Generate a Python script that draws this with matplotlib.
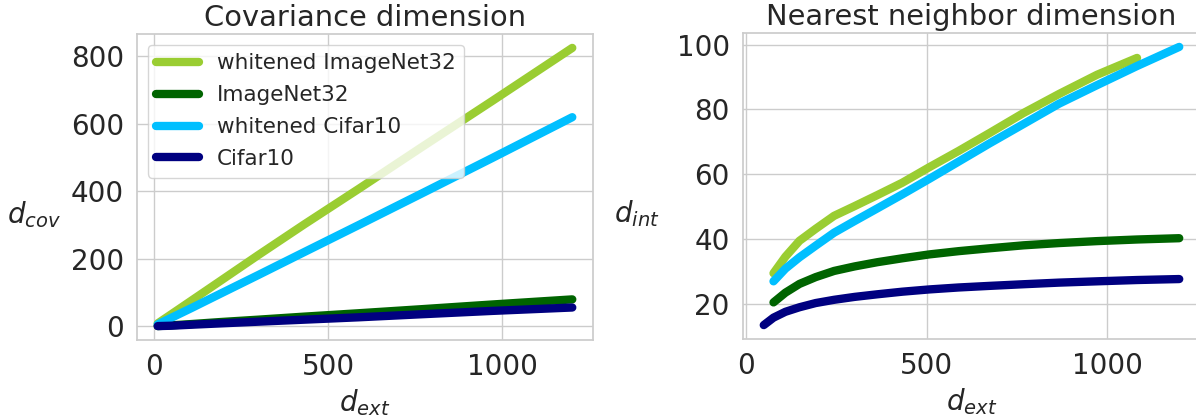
import matplotlib
matplotlib.use("Agg")
import matplotlib.pyplot as plt
import seaborn as sns

# ---- data ----
series_names = ["whitened ImageNet32", "ImageNet32", "whitened Cifar10", "Cifar10"]
series_colors = ["yellowgreen", "darkgreen", "deepskyblue", "navy"]

# covariance dimension vs extrinsic dimension
cov_x = [12, 48, 108, 192, 300, 432, 588, 768, 972, 1200]
cov_white_imagenet = [9, 34, 76, 135, 211, 302, 407, 530, 668, 824]
cov_imagenet = [1, 3, 7, 13, 20, 29, 39, 51, 65, 80]
cov_white_cifar = [6, 24, 54, 97, 152, 220, 300, 393, 499, 619]
cov_cifar = [1, 2, 5, 9, 14, 20, 27, 36, 46, 56]

# nearest neighbor dimension vs extrinsic dimension
nn_x_cifar = [48, 75, 108, 147, 192, 243, 300, 363, 432, 507, 588, 675, 768, 867, 972, 1083, 1200]
nn_x = [75, 108, 147, 192, 243, 300, 363, 432, 507, 588, 675, 768, 867, 972, 1083, 1200]
nn_x_white_imagenet = [75, 108, 147, 192, 243, 300, 363, 432, 507, 588, 675, 768, 867, 972, 1083]
nn_white_imagenet = [29.5, 34.6, 39.5, 43.2, 47.2, 50.2, 53.6, 57.4, 62.2, 67.2, 72.8, 78.9, 84.8, 90.7, 95.9]
nn_imagenet = [20.5, 23.5, 26.2, 28.3, 30.2, 31.6, 32.9, 34.1, 35.3, 36.3, 37.2, 38.1, 38.8, 39.4, 39.9, 40.3]
nn_white_cifar = [27.0, 30.9, 34.4, 38.0, 42.0, 45.6, 49.5, 53.8, 58.6, 63.9, 69.6, 75.5, 81.8, 87.5, 93.4, 99.3]
nn_cifar = [13.5, 15.8, 17.6, 19.0, 20.3, 21.3, 22.2, 23.0, 23.8, 24.5, 25.1, 25.6, 26.1, 26.6, 27.0, 27.4, 27.7]

sns.set_theme(style="whitegrid")
plt.rcParams["font.family"] = ["DejaVu Sans"]
plt.rcParams["mathtext.fontset"] = "dejavusans"

fig = plt.figure(figsize=(11.96, 4.16), dpi=100)
ax1 = fig.add_axes([137 / 1196, 76 / 416, 456 / 1196, 306 / 416])
ax2 = fig.add_axes([743 / 1196, 77 / 416, 457 / 1196, 306 / 416])

lw = 6
ax1.plot(cov_x, cov_white_imagenet, color=series_colors[0], lw=lw, label=series_names[0], solid_capstyle="round")
ax1.plot(cov_x, cov_imagenet, color=series_colors[1], lw=lw, label=series_names[1], solid_capstyle="round")
ax1.plot(cov_x, cov_white_cifar, color=series_colors[2], lw=lw, label=series_names[2], solid_capstyle="round")
ax1.plot(cov_x, cov_cifar, color=series_colors[3], lw=lw, label=series_names[3], solid_capstyle="round")

ax2.plot(nn_x_white_imagenet, nn_white_imagenet, color=series_colors[0], lw=lw, solid_capstyle="round")
ax2.plot(nn_x, nn_imagenet, color=series_colors[1], lw=lw, solid_capstyle="round")
ax2.plot(nn_x, nn_white_cifar, color=series_colors[2], lw=lw, solid_capstyle="round")
ax2.plot(nn_x_cifar, nn_cifar, color=series_colors[3], lw=lw, solid_capstyle="round")

text_color = "0.15"
for ax in (ax1, ax2):
    ax.tick_params(labelsize=20, colors=text_color)
    ax.set_xlabel(r"$d_{ext}$", fontsize=20, color=text_color)
    for s in ax.spines.values():
        s.set_color("0.8")

ax1.set_title("Covariance dimension", fontsize=20.8, color=text_color)
ax2.set_title("Nearest neighbor dimension", fontsize=20.8, color=text_color)
ax1.set_ylabel(r"$d_{cov}$", fontsize=20, rotation=0, va="center", ha="center", color=text_color)
ax2.set_ylabel(r"$d_{int}$", fontsize=20, rotation=0, va="center", ha="center", color=text_color)
ax1.yaxis.set_label_coords(-0.225, 0.41)
ax2.yaxis.set_label_coords(-0.232, 0.41)

ax1.set_xticks([0, 500, 1000])
ax2.set_xticks([0, 500, 1000])
ax1.set_yticks([0, 200, 400, 600, 800])
ax2.set_yticks([20, 40, 60, 80, 100])

ax1.legend(loc="upper left", fontsize=15.5, handlelength=2.0, labelspacing=0.55)

fig.savefig("out.png", dpi=100)
